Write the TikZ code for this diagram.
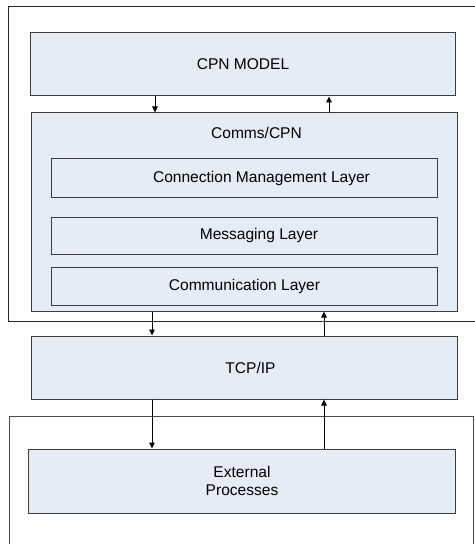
\documentclass[tikz,border=0pt]{standalone}
\usepackage{fontspec}
\setmainfont{Liberation Sans}
\usetikzlibrary{arrows.meta}
\definecolor{boxfill}{RGB}{230,236,246}
\definecolor{boxline}{RGB}{60,60,60}
\tikzset{
  layerbox/.style={draw=boxline, line width=1bp, fill=boxfill, rectangle, inner sep=0pt,
    font=\fontsize{15.6}{18}\selectfont, align=center},
  sublayer/.style={layerbox, fill=boxfill},
  frame/.style={line width=1bp, draw=black!85},
  arr/.style={line width=1bp, draw=black, -{Triangle[length=6bp,width=5.5bp]}},
  txt/.style={font=\fontsize{15.6}{18}\selectfont, inner sep=0pt}
}
\begin{document}
\begin{tikzpicture}[x=1bp,y=-1bp]
\useasboundingbox (0,0) rectangle (475,544);
\fill[white] (0,0) rectangle (475,544);

% enclosing frames (open towards the page edge)
\draw[frame] (476,7) -- (8,7) -- (8,321) -- (476,321);
\draw[frame, draw=black!70] (9,545) -- (9,416) -- (473,416) -- (473,545);

% main layers
\node[layerbox, minimum width=424bp, minimum height=63bp] (cpn) at (243,64.5) {CPN MODEL};
\node[layerbox, minimum width=425bp, minimum height=198bp] (comms) at (244.5,212) {};
\node[txt] (commstitle) at (256.5,133) {Comms/CPN};
\node[sublayer, minimum width=385bp, minimum height=38bp] (cml) at (244.5,178) {\hspace*{34bp}Connection Management Layer};
\node[sublayer, minimum width=385bp, minimum height=37bp] (msg) at (244.5,235.5) {\hspace*{29bp}Messaging Layer};
\node[sublayer, minimum width=385bp, minimum height=38bp] (com) at (244.5,286) {Communication Layer};
\node[layerbox, minimum width=425bp, minimum height=63bp] (tcp) at (244.5,367.5) {\hspace*{12bp}TCP/IP};
\node[layerbox, minimum width=426bp, minimum height=64bp] (ext) at (242,481) {External\\Processes};

% arrow columns
\coordinate (dA) at (155,0);
\coordinate (uA) at (329,0);
\coordinate (dB) at (152,0);
\coordinate (uB) at (324,0);

\draw[arr] (cpn.south -| dA) -- (comms.north -| dA);
\draw[arr] (comms.north -| uA) -- (cpn.south -| uA);
\draw[arr] (comms.south -| dB) -- (tcp.north -| dB);
\draw[arr] (tcp.north -| uB) -- (comms.south -| uB);
\draw[arr] (tcp.south -| dB) -- (ext.north -| dB);
\draw[arr] (ext.north -| uB) -- (tcp.south -| uB);
\end{tikzpicture}
\end{document}
